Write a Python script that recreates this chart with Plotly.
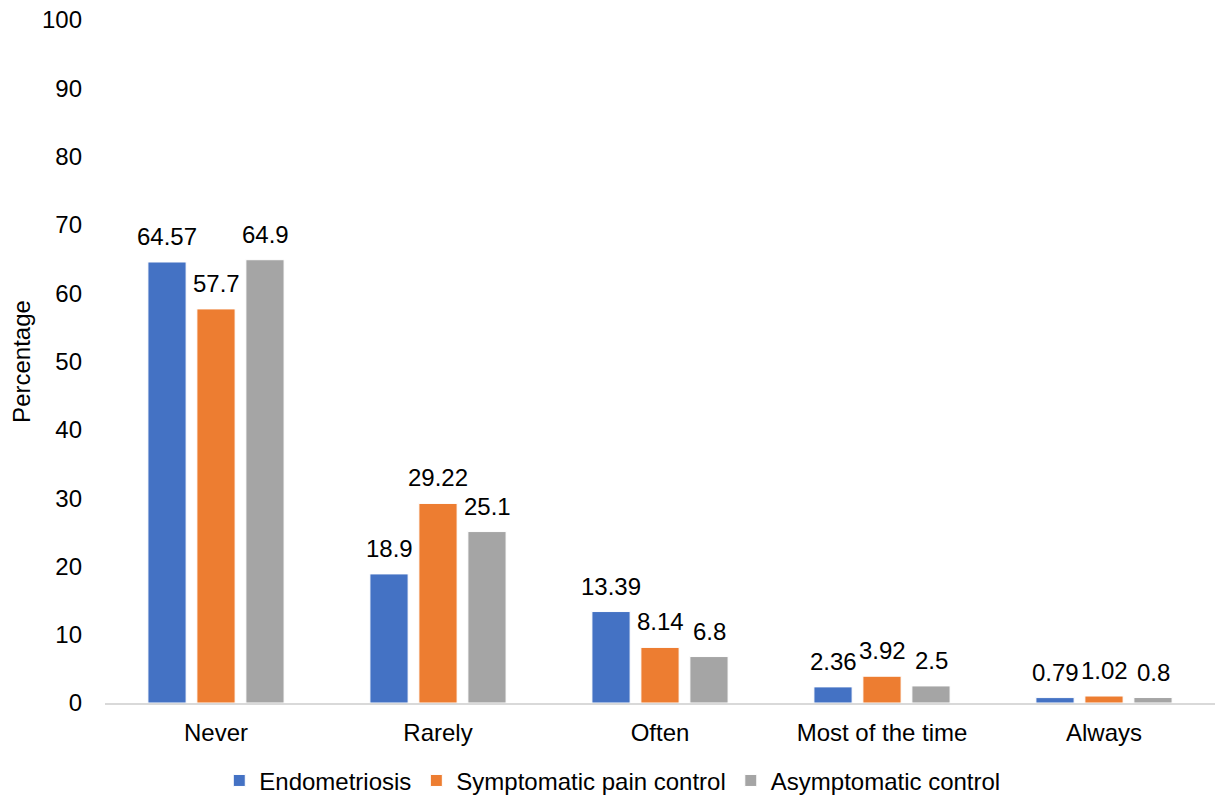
import plotly.graph_objects as go

categories = ["Never", "Rarely", "Often", "Most of the time", "Always"]
endometriosis = [64.57, 18.9, 13.39, 2.36, 0.79]
symptomatic = [57.7, 29.22, 8.14, 3.92, 1.02]
asymptomatic = [64.9, 25.1, 6.8, 2.5, 0.8]

series = [
    ("Endometriosis", endometriosis, "#4472C4"),
    ("Symptomatic pain control", symptomatic, "#ED7D31"),
    ("Asymptomatic control", asymptomatic, "#A5A5A5"),
]

font_family = "Liberation Sans, Arial, sans-serif"
font_size = 24
slot_px = 49  # horizontal distance between bars inside a group

fig = go.Figure()
for i, (name, values, color) in enumerate(series):
    fig.add_trace(go.Bar(
        x=categories,
        y=values,
        name=name,
        marker=dict(color=color, line=dict(color="white", width=1)),
    ))
    # value labels above each bar
    for cat, v in zip(categories, values):
        fig.add_annotation(
            x=cat, y=v, xref="x", yref="y",
            text=f"{v:g}",
            showarrow=False,
            yanchor="bottom",
            xanchor="center",
            xshift=(i - 1) * slot_px,
            yshift=10,
            font=dict(size=font_size, color="#000000", family=font_family),
        )

fig.update_layout(
    width=1216,
    height=801,
    barmode="group",
    bargap=0.338,
    bargroupgap=0.22,
    plot_bgcolor="white",
    paper_bgcolor="white",
    margin=dict(l=105, r=1, t=20, b=98, autoexpand=False),
    font=dict(family=font_family, size=font_size, color="#000000"),
    legend=dict(
        orientation="h",
        x=0.457,
        xanchor="center",
        y=-0.114,
        yanchor="middle",
        font=dict(size=font_size, color="#000000"),
        itemwidth=30,
        tracegroupgap=0,
    ),
    xaxis=dict(
        showline=True,
        linecolor="#D9D9D9",
        linewidth=1.5,
        ticks="",
        showgrid=False,
        ticklabelstandoff=7,
        tickfont=dict(size=font_size, color="#000000"),
    ),
    yaxis=dict(
        range=[0, 100],
        dtick=10,
        showgrid=False,
        zeroline=False,
        showline=False,
        ticks="",
        ticklabelstandoff=22,
        tickfont=dict(size=font_size, color="#000000"),
        title=dict(text="Percentage", font=dict(size=font_size, color="#000000"), standoff=4),
    ),
)

fig.write_html("out.html")
